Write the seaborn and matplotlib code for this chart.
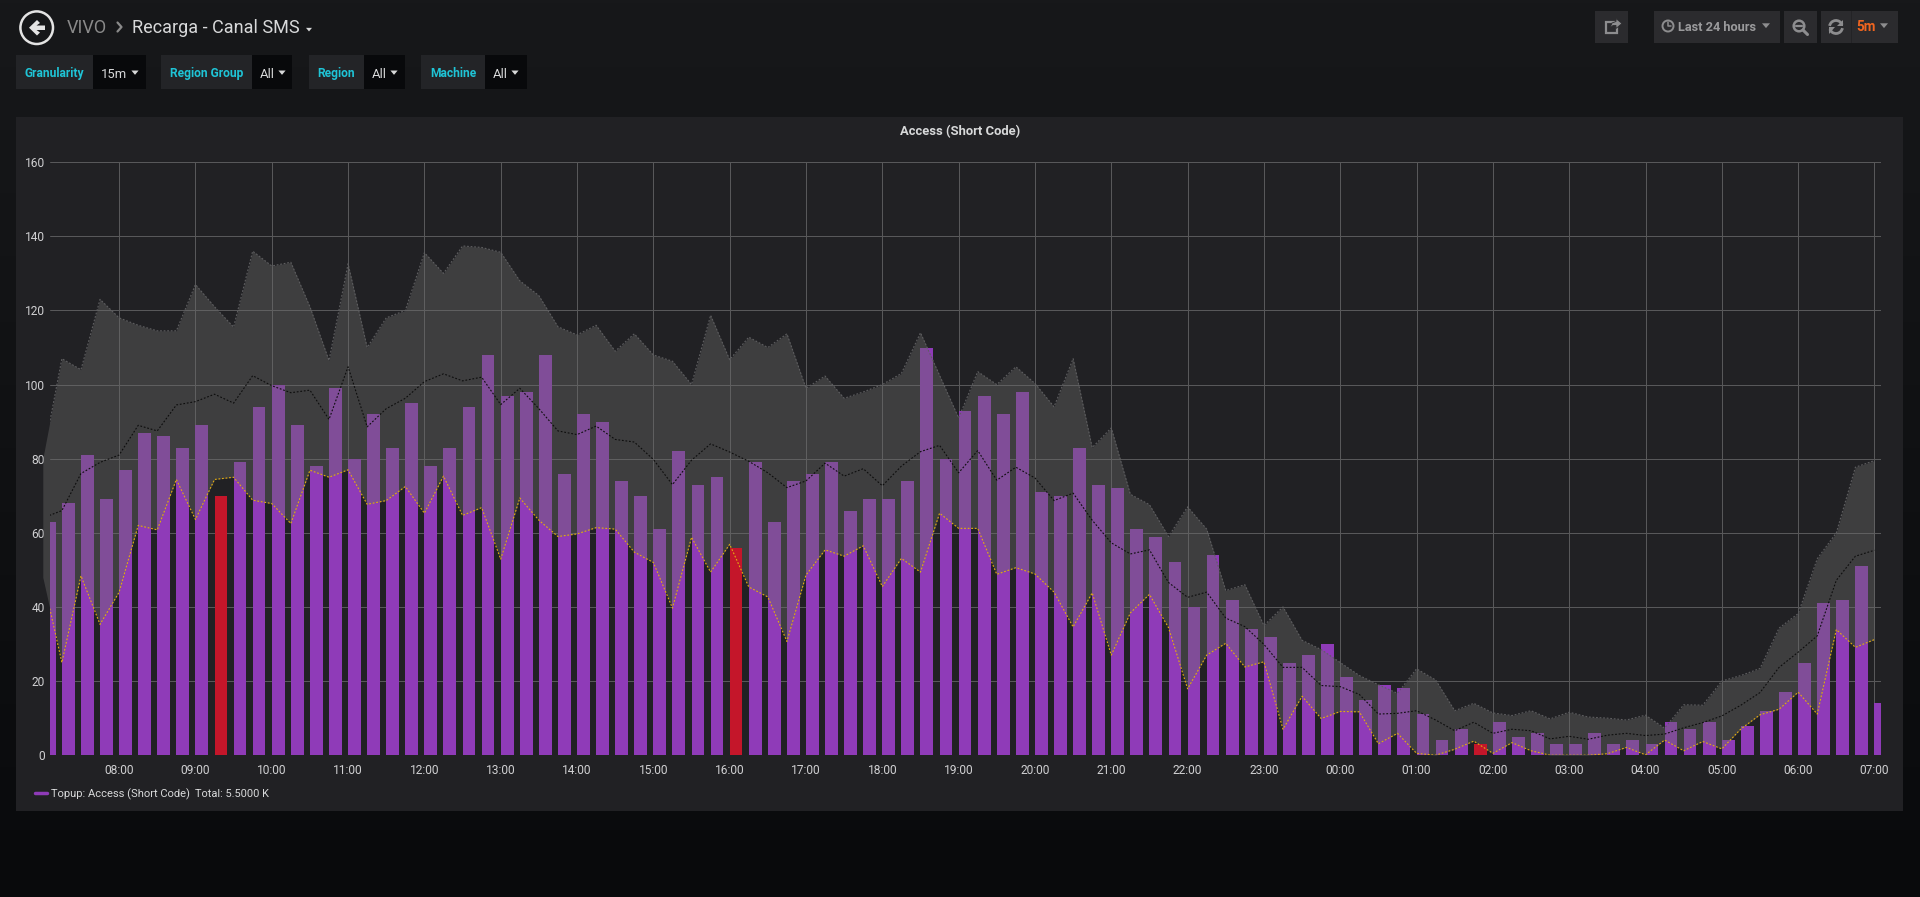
import numpy as np
import pandas as pd
import matplotlib
matplotlib.use("Agg")
import matplotlib.pyplot as plt
from matplotlib.patches import Rectangle, Circle, Polygon, Arc
import seaborn as sns

# --- Values, one per 15 minutes from 07:00 to 07:00 ---
access = [63, 68, 81, 69, 77, 87, 86, 83, 89, 70, 79, 94, 100, 89, 78, 99,
          80, 92, 83, 95, 78, 83, 94, 108, 97, 98, 108, 76, 92, 90, 74, 70,
          61, 82, 73, 75, 56, 79, 63, 74, 76, 79, 66, 69, 69, 74, 110, 80,
          93, 97, 92, 98, 71, 70, 83, 73, 72, 61, 59, 52, 40, 54, 42, 34,
          32, 25, 27, 30, 21, 15, 19, 18, 11, 4, 7, 3, 9, 5, 6, 3,
          3, 6, 3, 4, 3, 9, 7, 9, 4, 8, 12, 17, 25, 41, 42, 51,
          14]
upper = [80, 107, 104, 123, 118, 116, 114.5, 114.5, 127, 121, 115.5, 136, 132, 133, 121, 106.5,
         132.6, 110, 118, 120, 135.6, 130, 137.4, 137, 135.7, 128, 124, 115.6, 113.4, 116, 109, 113.7,
         108, 106.3, 100, 118.7, 106.7, 112.8, 110, 113.7, 99, 102.3, 96.3, 98, 100, 103, 114, 102.5,
         91, 103.5, 100, 104.8, 100.3, 94, 107, 83, 88.3, 70.4, 67.6, 59, 67, 61, 44.4, 46,
         35, 40, 31, 28.5, 25, 21.5, 19, 16.7, 23.3, 20.3, 12, 14, 11.4, 10.7, 12, 9.8,
         11.6, 10.3, 10, 9.5, 10.8, 7.3, 13.6, 13.5, 20, 21.5, 23.4, 34.3, 38.2, 53, 60, 77.7,
         79.5]
mean = [64, 66, 76, 79, 81, 89, 87.5, 94.5, 95.4, 97.4, 95, 102.4, 99.7, 97.8, 98.5, 90.6,
        104.8, 88.6, 93.5, 96.3, 100.8, 102.9, 101, 102, 94.6, 99, 93.5, 87.5, 86.5, 88.8, 85.2, 84.5,
        79.8, 73, 79.6, 84, 81.8, 79.3, 76.2, 72.2, 74, 78.8, 75.3, 77.3, 72.7, 78, 81.9, 83.6,
        76.2, 82.2, 74.2, 77.7, 74.8, 68.7, 70.7, 63.4, 57.3, 54.3, 55.4, 46.6, 42.6, 44, 37, 34.7,
        29.9, 23.7, 23.7, 18.8, 18.5, 16.4, 11.1, 11.3, 12, 9.5, 6.6, 8.9, 5.9, 7, 6.6, 4.4,
        5.1, 4.3, 5.4, 5.9, 5.3, 5.7, 7.4, 8.8, 10.6, 13.5, 16.9, 23.7, 27.8, 32.2, 47.2, 53.7,
        55.3]
lower = [48, 25, 48.4, 35.3, 44, 62, 60.8, 74.4, 63.6, 74.4, 75, 68.8, 67.9, 62.5, 76.9, 75,
         77, 67.7, 68.7, 72.5, 65.3, 75.3, 64.7, 66.8, 52.9, 69.4, 63.4, 59, 59.7, 61.4, 61, 54.8,
         52, 39.7, 58.8, 49.4, 56.9, 45.4, 42.7, 30.7, 48.6, 55.4, 53.7, 56.5, 45.5, 53.1, 49.4, 65.3,
         61.2, 61.2, 48.8, 50.6, 48.9, 44, 34.6, 43.8, 27, 38.4, 43.4, 34.4, 17.9, 27, 30.2, 23.8,
         25.2, 7, 15.9, 9.9, 11.8, 11.7, 3.1, 5.9, 0.5, 0, 1.6, 3.8, 0.5, 3.4, 1.2, 0,
         0, 0, 0.4, 2.1, 0.1, 4.1, 1.2, 3.7, 1.7, 7.1, 10.9, 12.4, 17, 11.1, 33.9, 29.1,
         31.2]
low_slots = [9, 36, 75]  # the three red bars
hour_labels = ["08:00", "09:00", "10:00", "11:00", "12:00", "13:00", "14:00", "15:00",
               "16:00", "17:00", "18:00", "19:00", "20:00", "21:00", "22:00", "23:00",
               "00:00", "01:00", "02:00", "03:00", "04:00", "05:00", "06:00", "07:00"]
y_ticks = [0, 20, 40, 60, 80, 100, 120, 140, 160]

W, H = 1920, 897
TEXT = "#d8d9da"
CYAN = "#1fc4d6"


def px(size):
    # font size in pixels to points at dpi 100
    return size * 0.72


sns.set_theme(style="dark")
plt.rcParams["font.family"] = ["Roboto", "DejaVu Sans"]

df = pd.DataFrame({"slot": np.arange(len(access)), "access": access,
                   "upper": upper, "mean": mean, "lower": lower})
df["state"] = np.where(df["slot"].isin(low_slots), "low", "ok")
# bars start at their timestamp, so the centre sits a bit to the right
bar_width = 0.67
df["centre"] = df["slot"] + bar_width / 2

fig = plt.figure(figsize=(W / 100, H / 100), dpi=100)

# --- Page background and dashboard chrome, in pixel coordinates ---
ui = fig.add_axes([0, 0, 1, 1], zorder=0)
ui.axis("off")
gradient = np.linspace(0, 1, 256).reshape(-1, 1)
top_col, bottom_col = np.array([0x17, 0x18, 0x1a]), np.array([0x09, 0x0a, 0x0c])
ui.imshow((top_col + (bottom_col - top_col) * gradient[..., None]).astype(np.uint8),
          extent=[0, W, H, 0], aspect="auto", zorder=0)
ui.set_xlim(0, W)
ui.set_ylim(H, 0)


def box(x0, y0, x1, y1, color):
    ui.add_patch(Rectangle((x0, y0), x1 - x0, y1 - y0, facecolor=color, edgecolor="none", zorder=1))


def caret(x, y, color, size=4):
    ui.add_patch(Polygon([(x - size, y - size * 0.55), (x + size, y - size * 0.55), (x, y + size * 0.65)],
                         facecolor=color, edgecolor="none", zorder=3))


def label(x, y, s, color=TEXT, size=12, weight="normal", ha="left"):
    # y is the middle of the cap height, so words without descenders line up too
    ui.text(x, y + size * 0.36, s, color=color, fontsize=px(size), fontweight=weight,
            ha=ha, va="baseline", zorder=3)


# panel
box(16, 117, 1903, 811, "#212124")
label(960, 130, "Access (Short Code)", size=13, weight="bold", ha="center")

# back button
ui.add_patch(Circle((36.7, 27.7), 16.3, facecolor="none", edgecolor="#e4e4e4", linewidth=1.8, zorder=3))
ui.add_patch(Polygon([(29, 27.7), (37, 20), (40, 23), (36.5, 25.5), (45, 25.5), (45, 30), (36.5, 30),
                      (40, 32.5), (37, 35.5)], facecolor="#e4e4e4", edgecolor="none", zorder=3))

# breadcrumb
label(67, 27, "VIVO", color="#8a8a8a", size=18)
ui.plot([117.5, 121.5, 117.5], [22.5, 27, 31.5], color="#8a8a8a", linewidth=1.6, zorder=3)
label(132, 27, "Recarga - Canal SMS", color=TEXT, size=18)
caret(309, 29.5, TEXT, 3)

# template variables
filters = [("Granularity", 16, 93, 146, "15m", 101, 135),
           ("Region Group", 161, 252, 292, "All", 260, 282),
           ("Region", 309, 364, 405, "All", 372, 394),
           ("Machine", 421, 485, 526.5, "All", 493, 515)]
for name, x0, x1, x2, value, value_x, caret_x in filters:
    box(x0, 55, x1, 89.5, "#232427")
    box(x1, 55, x2, 89.5, "#08090b")
    label((x0 + x1) / 2, 72.5, name, color=CYAN, size=12, weight="bold", ha="center")
    label(value_x, 73, value, color=TEXT, size=13)
    caret(caret_x, 72.5, TEXT, 3.6)

# top right buttons
for x0, x1 in [(1595, 1628), (1654, 1780), (1784, 1817), (1821, 1898)]:
    box(x0, 11, x1, 43, "#2b2b2e")
box(1851, 11, 1852, 43, "#232326")
ICON = "#8d8d8f"
ui.add_patch(Rectangle((1605.5, 22), 11, 11, facecolor="none", edgecolor=ICON, linewidth=1.6, zorder=3))
ui.add_patch(Polygon([(1610, 28), (1612, 23), (1616, 21.5), (1616, 18.5), (1622, 23.5), (1616, 28.5), (1616, 25.5),
                      (1613, 25.5)], facecolor=ICON, edgecolor="#2b2b2e", linewidth=0.6, zorder=4))
ui.add_patch(Circle((1668, 26), 5.5, facecolor="none", edgecolor=ICON, linewidth=1.4, zorder=3))
ui.plot([1668, 1668, 1671], [22.5, 26.5, 26.5], color=ICON, linewidth=1.1, zorder=3)
label(1678, 26.5, "Last 24 hours", color="#9a9a9c", size=12.8, weight="bold")
caret(1766, 25.5, ICON, 4)
ui.add_patch(Circle((1799, 26), 5.3, facecolor="none", edgecolor=ICON, linewidth=1.8, zorder=3))
ui.plot([1803, 1807.5], [30, 34.5], color=ICON, linewidth=2.2, zorder=3)
ui.plot([1796, 1802], [26, 26], color=ICON, linewidth=1.6, zorder=3)
ui.add_patch(Arc((1836, 27), 13, 13, theta1=190, theta2=340, edgecolor=ICON, linewidth=2, zorder=3))
ui.add_patch(Arc((1836, 27), 13, 13, theta1=10, theta2=160, edgecolor=ICON, linewidth=2, zorder=3))
ui.add_patch(Polygon([(1843, 20), (1843, 26.5), (1837, 26.5)], facecolor=ICON, edgecolor="none", zorder=3))
ui.add_patch(Polygon([(1829, 34), (1829, 27.5), (1835, 27.5)], facecolor=ICON, edgecolor="none", zorder=3))
label(1856, 26.5, "5m", color="#f0651f", size=13.5, weight="bold")
caret(1884, 25.5, ICON, 4)

# legend
ui.plot([35, 47], [793, 793], color="#8f3bb8", linewidth=2.5, zorder=3, solid_capstyle="round")
label(51, 793, "Topup: Access (Short Code)", color=TEXT, size=11.1)
label(195, 793, "Total: 5.5000 K", color=TEXT, size=11)

# --- Chart ---
left, right, top, bottom = 49.7, 1880.8, 162.2, 755.2
ax = fig.add_axes([left / W, 1 - bottom / H, (right - left) / W, (bottom - top) / H], zorder=1)
ax.patch.set_alpha(0)
ax.set_axisbelow(True)

sns.barplot(data=df, x="centre", y="access", hue="state", hue_order=["ok", "low"],
            palette={"ok": "#8f3bb8", "low": "#c4162a"}, native_scale=True, dodge=False,
            width=bar_width, errorbar=None, legend=False, saturation=1, linewidth=0, ax=ax)

# band between the two outer series, it runs past the left edge like in grafana
ax.fill_between(df["slot"], df["lower"], df["upper"], color="#6a6a6a", alpha=0.4,
                linewidth=0, zorder=2.5, clip_on=False)

# red bars stay on top of the band, only the lines cross them
for bar in ax.containers[1]:
    bar.set_zorder(2.8)

dotted = (0, (1.6, 1.6))
sns.lineplot(data=df, x="slot", y="upper", color="#5e5e60", linewidth=0.8, linestyle=dotted,
             errorbar=None, ax=ax, zorder=3)
sns.lineplot(data=df, x="slot", y="mean", color="#0d0d0d", linewidth=0.8, linestyle=dotted,
             errorbar=None, ax=ax, zorder=3)
sns.lineplot(data=df, x="slot", y="lower", color="#e5ac0e", linewidth=0.8, linestyle=dotted,
             errorbar=None, ax=ax, zorder=3)

ax.set_xlim((left - 42.8) / 19.08, (right - 42.8) / 19.08)
ax.set_ylim(0, 160)
ax.set_xticks(np.arange(4, 97, 4), hour_labels)
ax.set_yticks(y_ticks)
ax.set_xlabel("")
ax.set_ylabel("")
ax.grid(True, color="#58585a", linewidth=0.72)
ax.tick_params(length=0, labelcolor="#d0d0d2", labelsize=px(12))
ax.tick_params(axis="x", pad=6)
ax.tick_params(axis="y", pad=3.5)
sns.despine(ax=ax, left=True, bottom=True, top=True, right=True)

fig.savefig("out.png", dpi=100, facecolor="#161719")
